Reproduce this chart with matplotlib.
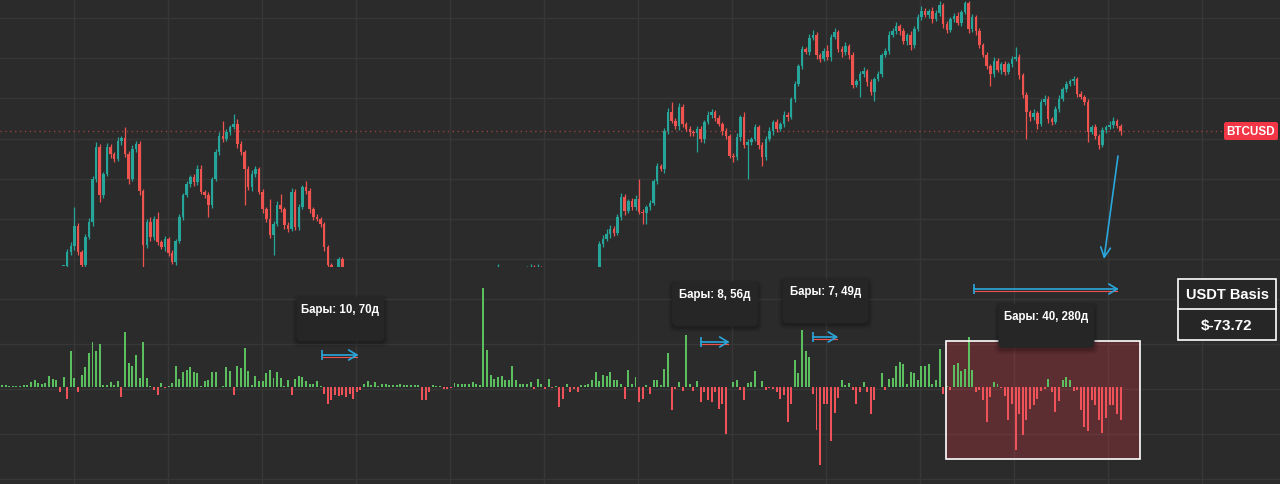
import numpy as np
import matplotlib.pyplot as plt
from matplotlib.patches import FancyBboxPatch, Rectangle

# --- data -------------------------------------------------------------
# weekly BTCUSD candles (price pane units), bar index starts at candle_first
# None = candle not visible in the screenshot (below the price pane)
candle_first = 17
closes = ([1, 15, 21, 41, 15, 2, 30, 45, 88, 120, 72, 93, 120, 113]
          + [108, 126, 129, 113, 88, 118, 123, 76, 22, 45, 30, 48, 25, 20]
          + [28, 14, 5, 26, 50, 72, 83, 90, 85, 98, 75, 72, 62, 88]
          + [115, 131, 128, 135, 140, 143, 123, 115, 98, 80, 93, 98, 75, 58]
          + [48, 32, 43, 62, 58, 42, 38, 75, 40, 60, 80, 76, 58, 50]
          + [48, 43, 20, 2, -5, -3, 8, 0]
          + [None] * 42
          + [-5]
          + [None] * 6
          + [-15, -4, -1, -6, -2, -8, -12]
          + [None] * 13
          + [-2]
          + [23, 28, 33, 38, 34, 50, 70, 56, 66, 60, 68, 55, 54, 60]
          + [64, 86, 101, 98, 136, 155, 146, 141, 160, 143, 138, 135, 134, 138]
          + [128, 145, 152, 155, 149, 143, 136, 131, 111, 110, 130, 150, 122, 125]
          + [128, 140, 122, 110, 128, 136, 145, 138, 143, 152, 150, 168, 183, 201]
          + [218, 215, 229, 232, 212, 208, 216, 210, 230, 235, 218, 215, 221, 212]
          + [182, 186, 193, 196, 185, 175, 188, 193, 212, 216, 232, 236, 241, 236]
          + [226, 232, 222, 238, 250, 256, 252, 256, 248, 254, 262, 243, 237, 248]
          + [251, 244, 255, 264, 238, 250, 236, 222, 212, 201, 193, 206, 197, 203]
          + [195, 203, 208, 210, 192, 172, 155, 150, 154, 143, 165, 168, 148, 145]
          + [158, 168, 178, 183, 186, 188, 173, 170, 165, 135, 140, 131, 122, 137]
          + [140, 142, 146, 141, 136])

wick_hi = ([0, 3, 4, 19, 3, 2, 3, 4, 3, 5, 3, 2, 4, 3]
           + [2, 4, 2, 11, 3, 4, 3, 3, 2, 3, 5, 3, 7, 2]
           + [3, 2, 3, 2, 3, 2, 3, 2, 3, 4, 4, 2, 3, 2]
           + [3, 4, 15, 3, 2, 10, 5, 3, 2, 3, 4, 3, 2, 3]
           + [2, 20, 3, 4, 11, 2, 3, 4, 3, 3, 2, 6, 3, 2]
           + [3, 2, 2, 2, 2, 3, 2, 2]
           + [0] * 42
           + [8]
           + [0] * 6
           + [2, 5, 4, 3, 5, 3, 2]
           + [0] * 13
           + [0]
           + [3, 4, 5, 4, 3, 3, 4, 3, 2, 3, 4, 20, 3, 2]
           + [3, 2, 3, 2, 3, 4, 10, 3, 4, 3, 2, 3, 2, 3]
           + [3, 2, 4, 3, 2, 3, 2, 3, 2, 3, 4, 2, 5, 3]
           + [2, 3, 2, 3, 3, 4, 2, 3, 2, 4, 3, 2, 3, 2]
           + [3, 2, 4, 5, 3, 2, 3, 6, 3, 4, 2, 3, 4, 2]
           + [3, 2, 3, 4, 2, 3, 2, 3, 2, 3, 4, 3, 4, 2]
           + [3, 2, 4, 3, 3, 5, 3, 2, 4, 3, 4, 2, 3, 2]
           + [3, 4, 2, 2, 2, 3, 2, 3, 2, 3, 2, 4, 3, 2]
           + [3, 2, 3, 10, 3, 2, 3, 2, 4, 2, 3, 4, 3, 2]
           + [3, 4, 2, 3, 2, 3, 2, 3, 2, 3, 2, 3, 2, 3]
           + [2, 4, 4, 2, 2])

wick_lo = ([0, 4, 3, 4, 3, 2, 3, 2, 4, 3, 7, 3, 2, 4]
           + [3, 2, 4, 3, 5, 2, 3, 4, 22, 3, 4, 3, 3, 2]
           + [4, 3, 2, 3, 2, 3, 2, 3, 4, 3, 2, 3, 12, 3]
           + [2, 3, 3, 2, 3, 2, 4, 3, 36, 3, 4, 3, 2, 4]
           + [3, 3, 20, 2, 3, 4, 3, 2, 3, 3, 2, 3, 4, 3]
           + [2, 3, 4, 5, 3, 4, 5, 2]
           + [0] * 42
           + [0]
           + [0] * 6
           + [2, 2, 2, 2, 2, 2, 2]
           + [0] * 13
           + [0]
           + [2, 3, 2, 4, 3, 2, 3, 4, 2, 3, 3, 2, 11, 11]
           + [3, 2, 3, 2, 4, 3, 2, 3, 4, 3, 2, 4, 3, 19]
           + [3, 4, 2, 3, 3, 2, 4, 3, 2, 5, 3, 4, 3, 34]
           + [3, 2, 4, 9, 3, 2, 4, 3, 2, 3, 4, 2, 3, 2]
           + [3, 2, 3, 2, 4, 3, 2, 3, 4, 2, 3, 5, 3, 4]
           + [3, 2, 16, 3, 4, 3, 9, 2, 3, 2, 3, 2, 3, 4]
           + [3, 4, 5, 3, 2, 3, 2, 3, 4, 2, 3, 4, 3, 2]
           + [3, 2, 3, 2, 4, 3, 4, 3, 2, 3, 12, 3, 2, 4]
           + [3, 2, 3, 2, 4, 3, 27, 4, 3, 5, 2, 3, 4, 3]
           + [2, 3, 2, 3, 2, 4, 3, 2, 3, 10, 2, 3, 4, 2]
           + [3, 2, 3, 2, 4])

# USDT basis histogram, one value per weekly bar
basis = [2, 2, 1, 1, 1, 1, 2, 2, 5, 7,
         4, 3, 4, 11, 8, 7, -5, 10, -12, 36,
         9, -5, 12, 20, 34, 45, 36, 43, 2, 2,
         5, 2, 6, -10, 55, 24, 21, 32, 9, 45,
         9, 1, -3, -8, 4, -1, 1, 4, 21, 8,
         15, 17, 20, 15, 14, 1, 6, 7, 15, 15,
         0, 1, 20, 16, -8, 21, 19, 39, 16, 2,
         11, 6, 6, 14, 17, 9, 15, 9, 1, 7,
         -8, 8, 11, 10, 6, 3, 3, 6, 1, -7,
         -17, -13, -8, -9, -8, -10, -7, -12, -5, -3,
         3, 6, 2, 5, 1, 3, 3, 2, 2, 2,
         3, 2, 2, 2, 2, 2, -13, -13, -5, 2,
         1, 1, -2, -2, -1, 4, 3, 3, 3, 3,
         5, 3, 2, 99, 37, 12, 8, 10, 11, 7,
         7, 21, 7, 3, 3, 3, 5, -2, 8, 3,
         -2, 8, -1, 1, -20, -12, 3, -5, -2, -5,
         2, 2, 3, 7, 15, 6, 12, 11, 15, 7,
         7, 3, -12, 17, 3, 10, -15, -12, 2, -7,
         7, 7, 2, 18, 34, -23, -2, 5, -4, 52,
         3, -4, 6, -15, -5, -13, -15, -5, -22, -17,
         -47, 0, 5, 7, -3, -13, 4, 5, 16, 0,
         6, -3, -1, -2, -5, -12, -8, -35, -17, 27,
         14, 57, 36, 30, -7, -43, -78, -17, -17, -54,
         -26, -11, 7, 2, 4, -3, -17, -5, 5, -5,
         -27, -13, 0, 14, -3, 8, 9, 21, 25, 23,
         3, 15, 14, 7, 21, 21, 23, 3, 7, 38,
         -7, 1, -3, 22, 24, 16, 18, 50, 17, -5,
         -3, -13, -35, -10, 5, 3, -1, -9, -33, -17,
         -63, -27, -48, -33, -22, -18, -12, -4, -2, 8,
         -5, -25, -14, 7, 10, 7, -4, -3, -23, -40,
         -44, -13, -18, -33, -46, -31, -18, -18, -27, -33]

# measured bar ranges: start bar, bars, days
range_start = [88.5, 193, 224, 268.5]
range_bars = [10, 8, 7, 40]
range_days = [70, 56, 49, 280]

symbol = "BTCUSD"
basis_title = "USDT Basis"
basis_value = "$-73.72"

# --- layout (screen pixels) -------------------------------------------
W, H = 1280, 485
SPLIT = 268      # bottom row of price pane
BASE = 388       # zero row of histogram
STEP = 3.62      # px per bar
X0 = 2


def bx(px):
    return (px - X0) / STEP


BG = "#2b2b2b"
GRID = "#373737"
UP = "#26a69a"
DN = "#ef5350"
HG = "#5cbf5f"
HR = "#f0525a"
CYAN = "#2aa7dc"
LABEL_BOX = "#262626"
plt.rcParams["font.family"] = ["Liberation Sans", "DejaVu Sans"]

fig = plt.figure(figsize=(W / 100, H / 100), dpi=100, facecolor=BG)
ax = fig.add_axes([0, (H - SPLIT) / H, 1, SPLIT / H])
ax2 = fig.add_axes([0, 0, 1, (H - SPLIT) / H])

xgrid = [bx(74 + 94 * k) for k in range(0, 14)]
for a in (ax, ax2):
    a.set_facecolor(BG)
    for s in a.spines.values():
        s.set_visible(False)
    a.set_xticks(xgrid)
    a.tick_params(length=0, labelbottom=False, labelleft=False)
    a.grid(True, color=GRID, lw=1)
    a.set_axisbelow(True)

ax.set_yticks([SPLIT - 19 - 40.2 * k for k in range(7)])
ax2.set_yticks([88, 43, -2, -47, -92])

# --- candles ----------------------------------------------------------
c = np.array(closes, dtype=float)
idx = candle_first + np.arange(len(c))
o = np.r_[c[0], c[:-1]]
o = np.where(np.isnan(o), c, o)
ok = ~np.isnan(c)
up = c >= o
top = np.maximum(o, c)
bot = np.minimum(o, c)
hi = top + np.array(wick_hi)
lo = bot - np.array(wick_lo)
for m, col in [(ok & up, UP), (ok & ~up, DN)]:
    ax.vlines(idx[m], lo[m], hi[m], color=col, lw=0.9, zorder=3)
    ax.bar(idx[m], np.maximum(top - bot, 0.8)[m], bottom=bot[m], width=0.7,
           color=col, linewidth=0, zorder=3)

last = c[-1]
ax.hlines(last, bx(0), bx(1224), color=DN, lw=1, alpha=0.55,
          linestyles=(0, (1, 2.5)), zorder=2)
ax.add_patch(FancyBboxPatch((bx(1224), last - 9), bx(1278) - bx(1224), 18,
                            boxstyle="round,pad=0,rounding_size=0.6",
                            mutation_aspect=STEP, fc="#f23645", ec="none",
                            zorder=5))
ax.text(bx(1251), last, symbol, color="white", fontsize=8.4, fontweight="bold",
        ha="center", va="center", zorder=6)

ax.annotate("", xy=(bx(1104), SPLIT - 260), xytext=(bx(1118), SPLIT - 157),
            arrowprops=dict(arrowstyle="->,head_length=0.5,head_width=0.25",
                            color=CYAN, lw=1.2, shrinkA=0, shrinkB=0,
                            mutation_scale=14), zorder=6)

# --- histogram --------------------------------------------------------
b = np.array(basis, dtype=float)
xi = np.arange(len(b))
ax2.bar(xi, b, width=0.55, color=np.where(b >= 0, HG, HR), linewidth=0,
        zorder=3)

# highlighted zone
zx0, zx1 = bx(946), bx(1140)
ax2.add_patch(Rectangle((zx0, BASE - 460), zx1 - zx0, 118, fc="#f23645",
                        alpha=0.25, ec="none", zorder=2))
ax2.add_patch(Rectangle((zx0, BASE - 460), zx1 - zx0, 118, fill=False,
                        ec="white", lw=1.2, zorder=4))

# measured ranges with labels
box_top = [BASE - 298, BASE - 283, BASE - 280, BASE - 305]
box_w = [88, 86, 86, 96]
arrow_y = [BASE - 356, BASE - 343, BASE - 338, BASE - 290]
for s, n, d, bt, bw, ay in zip(range_start, range_bars, range_days,
                               box_top, box_w, arrow_y):
    e = s + n
    mid = (s + e) / 2
    w = bw / STEP
    for k, al in [(4, 0.05), (2.5, 0.08), (1, 0.12)]:
        ax2.add_patch(FancyBboxPatch((mid - w / 2 - k / STEP, bt - 44 - k - 2),
                                     w + 2 * k / STEP, 44 + 2 * k,
                                     boxstyle="round,pad=0,rounding_size=1.6",
                                     mutation_aspect=STEP, fc="black",
                                     ec="none", alpha=al, zorder=5))
    ax2.add_patch(FancyBboxPatch((mid - w / 2, bt - 44), w, 44,
                                 boxstyle="round,pad=0,rounding_size=1.4",
                                 mutation_aspect=STEP, fc=LABEL_BOX, ec="none",
                                 zorder=6))
    ax2.text(mid, bt - 12, f"Бары: {n}, {d}д", color="white", fontsize=8.3,
             fontweight="bold", ha="center", va="center", zorder=7)
    ax2.plot([s, e - 0.4], [ay - 1.5, ay - 1.5], color=DN, lw=0.8, zorder=7)
    ax2.vlines(s, ay - 5, ay + 5, color=CYAN, lw=1.2, zorder=8)
    ax2.annotate("", xy=(e, ay), xytext=(s, ay),
                 arrowprops=dict(arrowstyle="->,head_length=0.5,head_width=0.3",
                                 color=CYAN, lw=1.2, shrinkA=0, shrinkB=0,
                                 mutation_scale=12), zorder=8)

# basis value box
bxa, bxb = bx(1178), bx(1276)
ax2.add_patch(Rectangle((bxa, BASE - 341), bxb - bxa, 61, fc=LABEL_BOX,
                        ec="white", lw=1.2, zorder=6))
ax2.plot([bxa, bxb], [BASE - 310, BASE - 310], color="white", lw=1.2, zorder=7)
ax2.text((bxa + bxb) / 2, BASE - 295, basis_title, color="white", fontsize=10.5,
         fontweight="bold", ha="center", va="center", zorder=8)
ax2.text((bxa + bxb) / 2, BASE - 326, basis_value, color="white", fontsize=11,
         fontweight="bold", ha="center", va="center", zorder=8)

# limits last so ticks/patches do not widen the view
for a in (ax, ax2):
    a.set_xlim(bx(0), bx(W))
ax.set_ylim(0, SPLIT)
ax2.set_ylim(-(H - BASE), BASE - SPLIT)

fig.savefig("out.png", dpi=100, facecolor=BG)
